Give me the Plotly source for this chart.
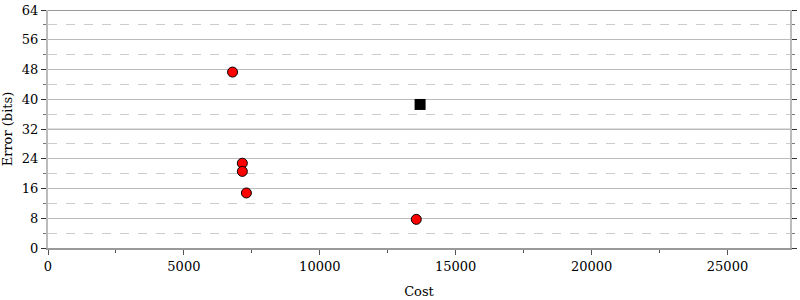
import plotly.graph_objects as go

cost_red = [6790, 7150, 7150, 7300, 13550]
err_red = [47.3, 22.8, 20.6, 14.8, 7.7]
cost_black = [13690]
err_black = [38.6]
x_ticks = [0, 5000, 10000, 15000, 20000, 25000]

font = "DejaVu Serif"
fig = go.Figure()
fig.add_trace(go.Scatter(x=cost_red, y=err_red, mode="markers",
                         marker=dict(symbol="circle", size=10, color="#ff0000",
                                     line=dict(color="#000000", width=1)),
                         showlegend=False))
fig.add_trace(go.Scatter(x=cost_black, y=err_black, mode="markers",
                         marker=dict(symbol="square", size=11, color="#000000",
                                     line=dict(color="#000000", width=0)),
                         showlegend=False))

fig.add_shape(type="line", xref="paper", x0=0, x1=1, yref="y", y0=32, y1=32,
              line=dict(color="#dddddd", width=2), layer="below")

fig.update_layout(
    width=800, height=300,
    margin=dict(l=48, r=3, t=8, b=49),
    plot_bgcolor="white", paper_bgcolor="white",
    font=dict(family=font, size=13, color="#000000"),
    xaxis=dict(range=[0, 27300], tickvals=x_ticks, ticktext=[str(v) for v in x_ticks],
               ticks="outside", ticklen=5, tickcolor="#555555",
               showgrid=False, zeroline=False,
               showline=True, linecolor="#999999", linewidth=2, mirror=False,
               minor=dict(dtick=2500, ticks="outside", ticklen=3, tickcolor="#555555", showgrid=False),
               title=dict(text="Cost", font=dict(size=13), standoff=14)),
    yaxis=dict(range=[0, 64], dtick=8, ticks="outside", ticklen=5, tickcolor="#333333",
               showgrid=True, gridcolor="#bbbbbb", gridwidth=1, zeroline=False,
               showline=True, linecolor="#bbbbbb", linewidth=2, mirror="ticks",
               minor=dict(dtick=4, ticks="outside", ticklen=3, tickcolor="#777777",
                          showgrid=True, gridcolor="#cccccc", griddash="dash", gridwidth=1),
               title=dict(text="Error (bits)", font=dict(size=13), standoff=6)),
)
fig.add_shape(type="line", xref="paper", x0=0, x1=1, yref="y", y0=64, y1=64,
              line=dict(color="#999999", width=2))
fig.write_html("out.html")
